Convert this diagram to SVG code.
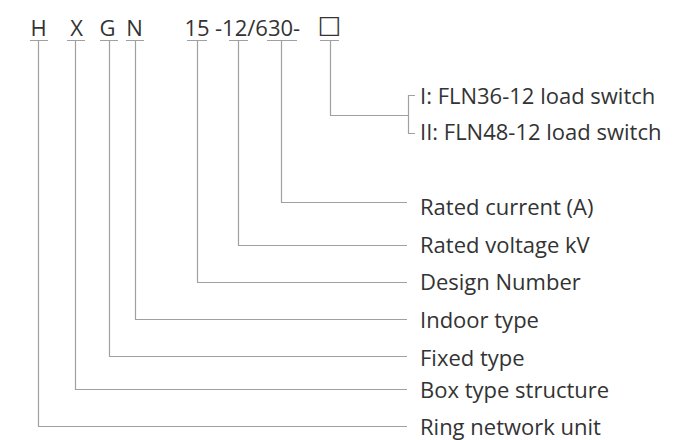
<svg xmlns="http://www.w3.org/2000/svg" width="673" height="440" viewBox="0 0 673 440">
<style>
.t{font-family:"Open Sans","Noto Sans","Liberation Sans",sans-serif;font-size:22px;fill:#333}
.c{fill:none;stroke:#a0a0a0;stroke-width:1.2}
.sq{font-family:"DejaVu Sans",sans-serif;font-size:25px;fill:#333}
</style>
<rect width="673" height="440" fill="#fff"/>
<g id="code">
<text class="t" y="35.5"><tspan x="38.5" text-anchor="middle">H</tspan><tspan x="76.5" text-anchor="middle">X</tspan><tspan x="107.5" text-anchor="middle">G</tspan><tspan x="134.5" text-anchor="middle">N</tspan><tspan x="197" text-anchor="middle">15</tspan><tspan x="215">-12/630-</tspan><tspan class="sq" x="329.5" y="32.5" text-anchor="middle">□</tspan></text>
</g>
<g id="connectors">
<path class="c" d="M30,40.5H48M38.5,40.5V426.5H407"/>
<path class="c" d="M67,40.5H85M75.5,40.5V389.5H407"/>
<path class="c" d="M100,40.5H118M109.5,40.5V356.5H407"/>
<path class="c" d="M126,40.5H144M135.5,40.5V319.5H407"/>
<path class="c" d="M187,40.5H207M197.5,40.5V282.5H407"/>
<path class="c" d="M229,40.5H248M238.5,40.5V245.5H407"/>
<path class="c" d="M267,40.5H297M281.5,40.5V202.5H407"/>
<path class="c" d="M320,40.5H339M330.5,40.5V115.5H408.5"/>
<path class="c" d="M415,95.5H408.5V133.5H415"/>
</g>
<g id="opt1"><text class="t" x="420" y="103.5">I: FLN36-12 load switch</text></g>
<g id="opt2"><text class="t" x="420" y="140">II: FLN48-12 load switch</text></g>
<g id="current"><text class="t" x="420" y="215">Rated current (A)</text></g>
<g id="voltage"><text class="t" x="420" y="253">Rated voltage kV</text></g>
<g id="design"><text class="t" x="420" y="290">Design Number</text></g>
<g id="indoor"><text class="t" x="420" y="328">Indoor type</text></g>
<g id="fixed"><text class="t" x="420" y="366">Fixed type</text></g>
<g id="box"><text class="t" x="420" y="398">Box type structure</text></g>
<g id="ring"><text class="t" x="420" y="434.5">Ring network unit</text></g>
</svg>
